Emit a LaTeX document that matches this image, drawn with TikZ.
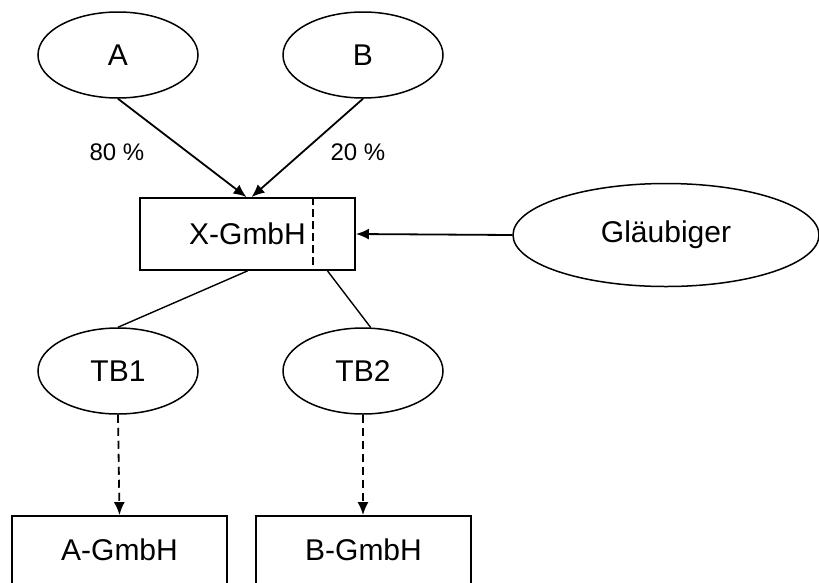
\documentclass[tikz,border=0pt]{standalone}
\usepackage{fontspec}
\setmainfont{Liberation Sans}
\usetikzlibrary{shapes.geometric}
\usetikzlibrary{arrows.meta}
\tikzset{>={Latex[length=13pt,width=11pt]}}

\begin{document}
\begin{tikzpicture}
                [x=1pt,y=-1pt,line width=1.8pt,
                 every node/.style={font=\fontsize{30}{36}\selectfont},
                 oval/.style={ellipse,draw,line width=1.5pt,minimum width=160pt,minimum height=86pt,inner sep=0pt},
                 firm/.style={rectangle,draw,minimum width=215pt,minimum height=70pt,inner sep=0pt},
                 share/.style={font=\fontsize{24}{28}\selectfont}]
                \useasboundingbox (0,0) rectangle (819,582);

                \node[oval] (a) at (118,55) {A};
                \node[oval] (b) at (363,55) {B};

                \node[firm,minimum height=72pt] (xg) at (247.5,234) {X-GmbH};
                \node[oval,minimum width=306pt,minimum height=103pt] (gl) at (666,235) {Gläubiger};

                \node[oval] (tb1) at (118,371) {TB1};
                \node[oval] (tb2) at (363,371) {TB2};

                \node[firm,minimum height=68pt] (ag) at (119.5,550) {A-GmbH};
                \node[firm,minimum height=68pt] (bg) at (363.5,550) {B-GmbH};

                \node[share] (s80) at (117,152) {80 \%};
                \node[share] (s20) at (358,152) {20 \%};

                \draw[->] (a.south) -- ([xshift=-1]xg.north);
                \draw[->] (b.south) -- ([xshift=4]xg.north);
                \draw[->] (gl.west) -- (xg.east);
                \draw[dash pattern=on 8pt off 4pt] ([xshift=-43]xg.north east) -- ([xshift=-43]xg.south east);

                \draw[line width=1.4pt] (xg.south) -- (tb1.north);
                \draw[line width=1.4pt] ([xshift=80]xg.south) -- (tb2.80);

                \draw[->,dash pattern=on 8pt off 5pt] (tb1.south) -- (ag.north);
                \draw[->,dash pattern=on 8pt off 5pt] (tb2.south) -- (tb2.south |- bg.north);
            \end{tikzpicture}
\end{document}
